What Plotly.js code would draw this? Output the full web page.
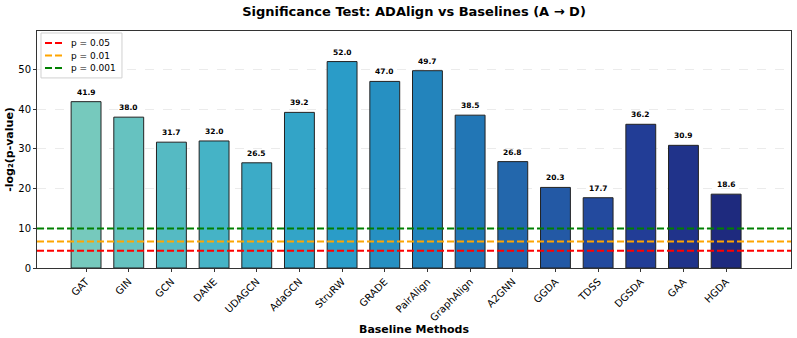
<!DOCTYPE html>
<html>
<head>
<meta charset="utf-8">
<script src="https://cdn.plot.ly/plotly-3.0.1.min.js"></script>
<style>
  html, body { margin: 0; padding: 0; background: #fff; }
  #plot { width: 797px; height: 338px; }
</style>
</head>
<body>
<div id="plot"></div>
<script>
var methods = ['GAT', 'GIN', 'GCN', 'DANE', 'UDAGCN', 'AdaGCN', 'StruRW', 'GRADE', 'PairAlign',
  'GraphAlign', 'A2GNN', 'GGDA', 'TDSS', 'DGSDA', 'GAA', 'HGDA'];
var scores = [41.9, 38.0, 31.7, 32.0, 26.5, 39.2, 52.0, 47.0, 49.7, 38.5, 26.8, 20.3, 17.7, 36.2, 30.9, 18.6];
var pLabels = ['p = 0.05', 'p = 0.01', 'p = 0.001'];
var pValues = [0.05, 0.01, 0.001];
var pColors = ['#ff0000', '#ffa500', '#008000'];

var idx = methods.map(function (m, i) { return i; });
var font = 'DejaVu Sans, sans-serif';
var dashStyle = '7px,3px';

var bars = {
  x: idx,
  y: scores,
  type: 'bar',
  width: 0.7,
  showlegend: false,
  hoverinfo: 'x+y',
  marker: {
    color: idx,
    colorscale: [
      [0, '#76c9bd'], [0.2, '#45b3c6'], [0.4, '#2a9cc8'], [0.55, '#2281bb'],
      [0.7, '#2360a8'], [0.85, '#233f99'], [1, '#1e2a7e']
    ],
    line: {color: '#222', width: 1}
  }
};

var data = [bars];
pValues.forEach(function (p, k) {
  var y = -Math.log2(p);
  data.push({
    x: [0, 1],
    y: [y, y],
    xaxis: 'x2',
    type: 'scatter',
    mode: 'lines',
    name: pLabels[k],
    showlegend: false,
    line: {color: pColors[k], width: 2, dash: dashStyle},
    hoverinfo: 'skip'
  });
});

// value labels above the bars
var annotations = scores.map(function (v, i) {
  return {
    x: i, y: v, xref: 'x', yref: 'y',
    text: '<b>' + v.toFixed(1) + '</b>',
    showarrow: false, yanchor: 'bottom', yshift: 3,
    font: {family: font, size: 7.5, color: '#000'}
  };
});

// hand-made legend box (matplotlib style, compact rows)
var shapes = [{
  type: 'rect', xref: 'paper', yref: 'paper',
  x0: 0.0053, x1: 0.1127, y0: 0.802, y1: 0.9916,
  fillcolor: 'rgba(255,255,255,0.85)',
  line: {color: '#d0d0d0', width: 1}
}];
pLabels.forEach(function (lab, k) {
  var yy = 0.949 - k * 0.0527;
  shapes.push({
    type: 'line', xref: 'paper', yref: 'paper',
    x0: 0.0106, x1: 0.0332, y0: yy, y1: yy,
    line: {color: pColors[k], width: 2, dash: dashStyle}
  });
  annotations.push({
    xref: 'paper', yref: 'paper', x: 0.0424, y: yy,
    xanchor: 'left', yanchor: 'middle', showarrow: false,
    text: lab, font: {family: font, size: 9, color: '#000'}
  });
});

var layout = {
  width: 797,
  height: 338,
  margin: {l: 37, r: 6, t: 31, b: 70},
  paper_bgcolor: '#fff',
  plot_bgcolor: '#fff',
  font: {family: font, size: 10, color: '#000'},
  showlegend: false,
  title: {
    text: '<b>Significance Test: ADAlign vs Baselines (A → D)</b>',
    font: {family: font, size: 13, color: '#000'},
    xref: 'paper', x: 0.5, xanchor: 'center', y: 0.965, yanchor: 'middle'
  },
  xaxis: {
    range: [-1.15, 16.52],
    tickvals: idx,
    ticktext: methods,
    tickangle: -45,
    ticks: 'outside',
    ticklen: 3,
    tickcolor: '#333',
    tickfont: {family: font, size: 10, color: '#000'},
    showgrid: false,
    zeroline: false,
    showline: true,
    linecolor: '#333',
    linewidth: 1,
    mirror: true,
    title: {text: '<b>Baseline Methods</b>', font: {family: font, size: 11, color: '#000'}, standoff: 0}
  },
  xaxis2: {
    overlaying: 'x',
    range: [0, 1],
    visible: false
  },
  yaxis: {
    range: [0, 59.7],
    tickvals: [0, 10, 20, 30, 40, 50],
    ticks: 'outside',
    ticklen: 3,
    tickcolor: '#333',
    tickfont: {family: font, size: 10, color: '#000'},
    showgrid: true,
    gridcolor: '#ebebeb',
    griddash: 'dash',
    gridwidth: 1,
    zeroline: false,
    showline: true,
    linecolor: '#333',
    linewidth: 1,
    mirror: true,
    title: {text: '<b>-log₂(p-value)</b>', font: {family: font, size: 11, color: '#000'}, standoff: 2}
  },
  shapes: shapes,
  annotations: annotations,
  bargap: 0.3
};

Plotly.newPlot('plot', data, layout, {displayModeBar: false, staticPlot: true});
</script>
</body>
</html>
